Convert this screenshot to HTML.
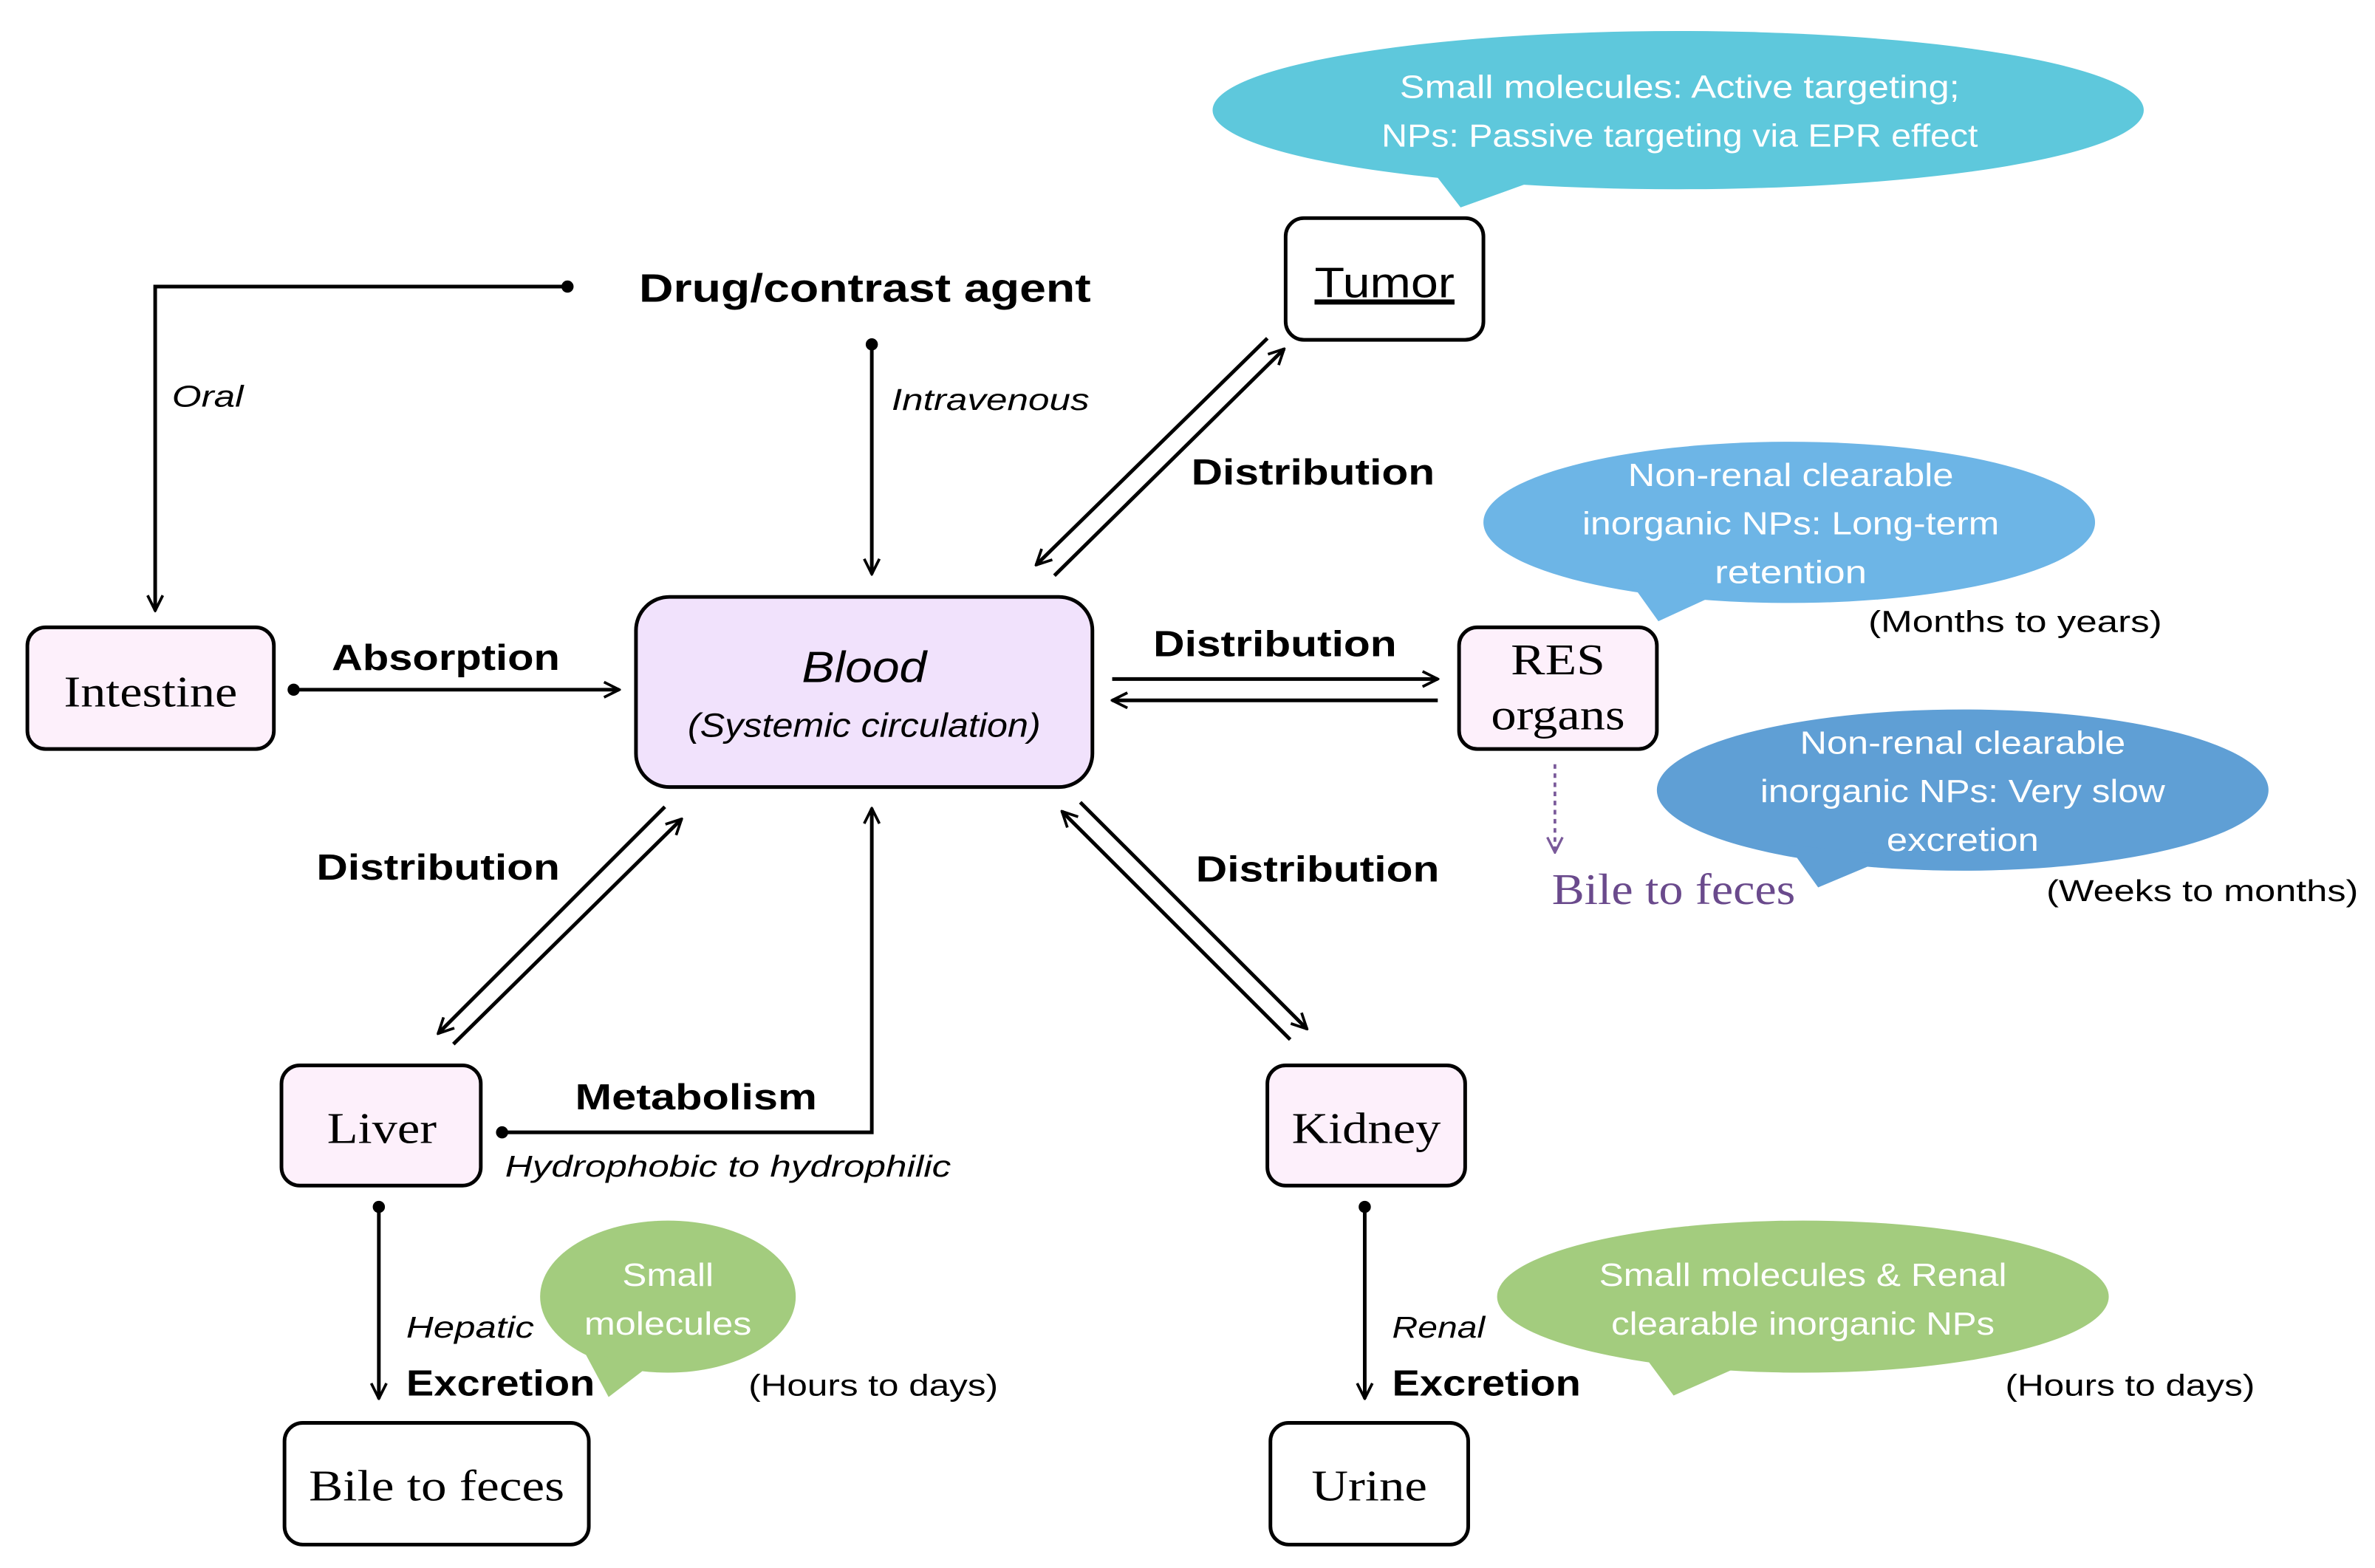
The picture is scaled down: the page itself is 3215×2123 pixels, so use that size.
<!DOCTYPE html>
<html><head><meta charset="utf-8"><style>
html,body{margin:0;padding:0;background:#fff;}
svg{display:block;}
text{font-family:"Liberation Sans",sans-serif;}
.s{font-family:"Liberation Serif",serif;}
</style></head><body>
<svg width="3215" height="2123" viewBox="0 0 1561 1030" xmlns="http://www.w3.org/2000/svg">
<defs>
<marker id="a" viewBox="0 0 12 12" refX="11" refY="6" markerWidth="12" markerHeight="12" markerUnits="userSpaceOnUse" orient="auto"><path d="M1,1 L11,6 L1,11" fill="none" stroke="#000" stroke-width="1.8"/></marker>
<marker id="p" viewBox="0 0 12 12" refX="11" refY="6" markerWidth="12" markerHeight="12" markerUnits="userSpaceOnUse" orient="auto"><path d="M1,1 L11,6 L1,11" fill="none" stroke="#7a5a9a" stroke-width="1.6"/></marker>
</defs>
<g stroke="#000" stroke-width="2.4" fill="none">
<!-- oral -->
<polyline points="373,188 102,188 102,401" marker-end="url(#a)"/>
<line x1="573" y1="226" x2="573" y2="377" marker-end="url(#a)"/>
<line x1="193" y1="453" x2="407" y2="453" marker-end="url(#a)"/>
<!-- tumor -->
<line x1="833" y1="222" x2="681" y2="371" marker-end="url(#a)"/>
<line x1="693" y1="378" x2="844" y2="229" marker-end="url(#a)"/>
<!-- RES -->
<line x1="731" y1="446" x2="945" y2="446" marker-end="url(#a)"/>
<line x1="945" y1="460" x2="731" y2="460" marker-end="url(#a)"/>
<!-- liver -->
<line x1="437" y1="530" x2="288" y2="679" marker-end="url(#a)"/>
<line x1="298" y1="686" x2="448" y2="538" marker-end="url(#a)"/>
<polyline points="330,744 573,744 573,531" marker-end="url(#a)"/>
<!-- kidney -->
<line x1="848" y1="683" x2="698" y2="533" marker-end="url(#a)"/>
<line x1="710" y1="527" x2="859" y2="676" marker-end="url(#a)"/>
<line x1="249" y1="793" x2="249" y2="919" marker-end="url(#a)"/>
<line x1="897" y1="793" x2="897" y2="919" marker-end="url(#a)"/>
</g>
<line x1="1022" y1="502" x2="1022" y2="560" stroke="#7a5a9a" stroke-width="1.8" stroke-dasharray="3,3" marker-end="url(#p)"/>
<g fill="#000"><circle cx="373" cy="188" r="4"/><circle cx="573" cy="226" r="4"/><circle cx="193" cy="453" r="4"/><circle cx="330" cy="744" r="4"/><circle cx="249" cy="793" r="4"/><circle cx="897" cy="793" r="4"/></g>

<!-- bubbles -->
<g>
<ellipse cx="1103" cy="72" rx="306" ry="52" fill="#5ec8dc"/><path d="M940,110 L960,136 L1010,118 Z" fill="#5ec8dc"/>
<ellipse cx="1176" cy="343" rx="201" ry="53" fill="#6db5e6"/><path d="M1070,380 L1090,408 L1140,385 Z" fill="#6db5e6"/>
<ellipse cx="1290" cy="519" rx="201" ry="53" fill="#5f9fd5"/><path d="M1175,555 L1195,583 L1245,562 Z" fill="#5f9fd5"/>
<ellipse cx="439" cy="852" rx="84" ry="50" fill="#a3cc7e"/><path d="M385,890 L400,918 L430,895 Z" fill="#a3cc7e"/>
<ellipse cx="1185" cy="852" rx="201" ry="50" fill="#a3cc7e"/><path d="M1080,890 L1100,917 L1150,895 Z" fill="#a3cc7e"/>
</g>
<g fill="#fff" font-size="21" text-anchor="middle">
<text x="1104" y="64" textLength="368" lengthAdjust="spacingAndGlyphs">Small molecules: Active targeting;</text>
<text x="1104" y="96" textLength="392" lengthAdjust="spacingAndGlyphs">NPs: Passive targeting via EPR effect</text>
<text x="1177" y="319" textLength="214" lengthAdjust="spacingAndGlyphs">Non-renal clearable</text>
<text x="1177" y="351" textLength="274" lengthAdjust="spacingAndGlyphs">inorganic NPs: Long-term</text>
<text x="1177" y="383" textLength="100" lengthAdjust="spacingAndGlyphs">retention</text>
<text x="1290" y="495" textLength="214" lengthAdjust="spacingAndGlyphs">Non-renal clearable</text>
<text x="1290" y="527" textLength="266" lengthAdjust="spacingAndGlyphs">inorganic NPs: Very slow</text>
<text x="1290" y="559" textLength="100" lengthAdjust="spacingAndGlyphs">excretion</text>
<text x="439" y="845" textLength="60" lengthAdjust="spacingAndGlyphs">Small</text>
<text x="439" y="877" textLength="110" lengthAdjust="spacingAndGlyphs">molecules</text>
<text x="1185" y="845" textLength="268" lengthAdjust="spacingAndGlyphs">Small molecules &amp; Renal</text>
<text x="1185" y="877" textLength="252" lengthAdjust="spacingAndGlyphs">clearable inorganic NPs</text>
</g>

<!-- boxes -->
<g stroke="#000" stroke-width="2.4">
<rect x="845" y="143" width="130" height="80" rx="12" fill="#fff"/>
<rect x="18" y="412" width="162" height="80" rx="12" fill="#fdf0fb"/>
<rect x="418" y="392" width="300" height="125" rx="22" fill="#f1e2fc"/>
<rect x="959" y="412" width="130" height="80" rx="12" fill="#fdf0fb"/>
<rect x="185" y="700" width="131" height="79" rx="12" fill="#fdf0fb"/>
<rect x="833" y="700" width="130" height="79" rx="12" fill="#fdf0fb"/>
<rect x="187" y="935" width="200" height="80" rx="12" fill="#fff"/>
<rect x="835" y="935" width="130" height="80" rx="12" fill="#fff"/>
</g>
<g font-size="29" text-anchor="middle" class="s" fill="#000">
<text class="s" x="99" y="464" textLength="114" lengthAdjust="spacingAndGlyphs">Intestine</text>
<text class="s" x="1024" y="443" textLength="62" lengthAdjust="spacingAndGlyphs">RES</text>
<text class="s" x="1024" y="479" textLength="88" lengthAdjust="spacingAndGlyphs">organs</text>
<text class="s" x="251" y="751" textLength="72" lengthAdjust="spacingAndGlyphs">Liver</text>
<text class="s" x="898" y="751" textLength="98" lengthAdjust="spacingAndGlyphs">Kidney</text>
<text class="s" x="287" y="986" textLength="168" lengthAdjust="spacingAndGlyphs">Bile to feces</text>
<text class="s" x="900" y="986" textLength="76" lengthAdjust="spacingAndGlyphs">Urine</text>
<text class="s" x="1100" y="594" fill="#6a4a8c" textLength="160" lengthAdjust="spacingAndGlyphs">Bile to feces</text>
</g>
<text x="910" y="195" font-size="28" text-anchor="middle" textLength="92" lengthAdjust="spacingAndGlyphs" text-decoration="underline">Tumor</text>
<line x1="864" y1="199" x2="956" y2="199" stroke="#000" stroke-width="1.6"/>
<text x="568" y="448" font-size="29" font-style="italic" text-anchor="middle" textLength="82" lengthAdjust="spacingAndGlyphs">Blood</text>
<text x="568" y="484" font-size="22" font-style="italic" text-anchor="middle" textLength="232" lengthAdjust="spacingAndGlyphs">(Systemic circulation)</text>

<g font-weight="bold" font-size="26">
<text x="420" y="198" textLength="297" lengthAdjust="spacingAndGlyphs">Drug/contrast agent</text>
<text x="218" y="440" font-size="24" textLength="150" lengthAdjust="spacingAndGlyphs">Absorption</text>
<text x="783" y="318" font-size="24" textLength="160" lengthAdjust="spacingAndGlyphs">Distribution</text>
<text x="758" y="431" font-size="24" textLength="160" lengthAdjust="spacingAndGlyphs">Distribution</text>
<text x="208" y="578" font-size="24" textLength="160" lengthAdjust="spacingAndGlyphs">Distribution</text>
<text x="786" y="579" font-size="24" textLength="160" lengthAdjust="spacingAndGlyphs">Distribution</text>
<text x="378" y="729" font-size="24" textLength="159" lengthAdjust="spacingAndGlyphs">Metabolism</text>
<text x="267" y="917" font-size="24" textLength="124" lengthAdjust="spacingAndGlyphs">Excretion</text>
<text x="915" y="917" font-size="24" textLength="124" lengthAdjust="spacingAndGlyphs">Excretion</text>
</g>
<g font-style="italic" font-size="20">
<text x="113" y="267" textLength="47" lengthAdjust="spacingAndGlyphs">Oral</text>
<text x="586" y="269" textLength="130" lengthAdjust="spacingAndGlyphs">Intravenous</text>
<text x="332" y="773" textLength="293" lengthAdjust="spacingAndGlyphs">Hydrophobic to hydrophilic</text>
<text x="267" y="879" textLength="84" lengthAdjust="spacingAndGlyphs">Hepatic</text>
<text x="915" y="879" textLength="61" lengthAdjust="spacingAndGlyphs">Renal</text>
</g>
<g font-size="20">
<text x="1228" y="415" textLength="193" lengthAdjust="spacingAndGlyphs">(Months to years)</text>
<text x="1345" y="592" textLength="205" lengthAdjust="spacingAndGlyphs">(Weeks to months)</text>
<text x="492" y="917" textLength="164" lengthAdjust="spacingAndGlyphs">(Hours to days)</text>
<text x="1318" y="917" textLength="164" lengthAdjust="spacingAndGlyphs">(Hours to days)</text>
</g>
</svg>
</body></html>
